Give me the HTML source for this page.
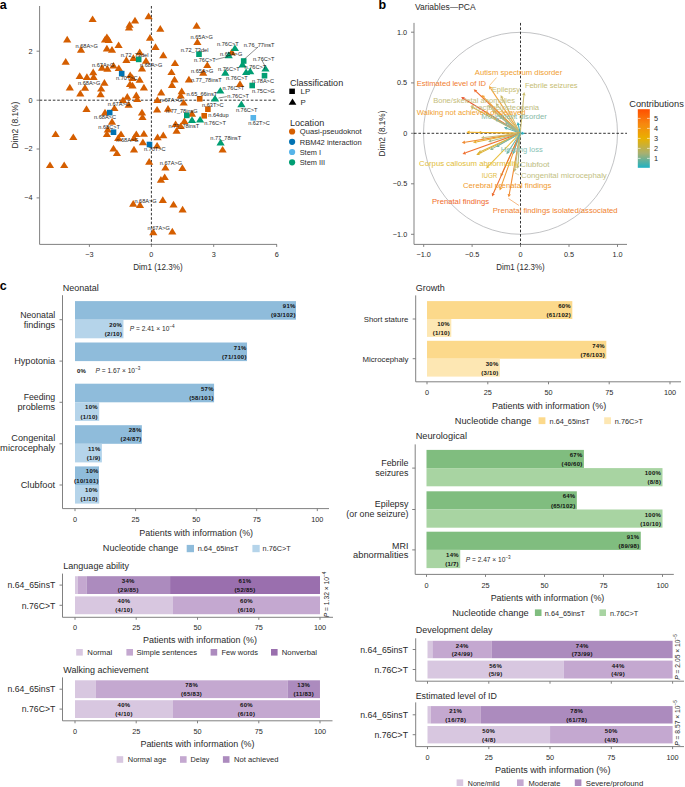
<!DOCTYPE html>
<html><head><meta charset="utf-8"><title>Figure</title>
<style>
html,body{margin:0;padding:0;background:#fff;width:685px;height:787px;overflow:hidden;}
svg{display:block;font-family:"Liberation Sans",sans-serif;}
</style></head>
<body>
<svg width="685" height="787" viewBox="0 0 685 787">
<rect width="685" height="787" fill="#fff"/>
<text x="-0.3" y="8.7" font-size="12.5" text-anchor="start" fill="#000" font-weight="bold">a</text>
<line x1="39.6" y1="6.0" x2="39.6" y2="244.4" stroke="#7a7a7a" stroke-width="0.95"/>
<line x1="39.6" y1="244.4" x2="277.0" y2="244.4" stroke="#7a7a7a" stroke-width="0.95"/>
<line x1="36.6" y1="51.2" x2="39.6" y2="51.2" stroke="#7a7a7a" stroke-width="0.95"/>
<text x="32.6" y="53.6" font-size="7.3" text-anchor="end" fill="#2a2a2a">2</text>
<line x1="36.6" y1="100.2" x2="39.6" y2="100.2" stroke="#7a7a7a" stroke-width="0.95"/>
<text x="32.6" y="102.6" font-size="7.3" text-anchor="end" fill="#2a2a2a">0</text>
<line x1="36.6" y1="149.0" x2="39.6" y2="149.0" stroke="#7a7a7a" stroke-width="0.95"/>
<text x="32.6" y="151.4" font-size="7.3" text-anchor="end" fill="#2a2a2a">−2</text>
<line x1="36.6" y1="197.9" x2="39.6" y2="197.9" stroke="#7a7a7a" stroke-width="0.95"/>
<text x="32.6" y="200.3" font-size="7.3" text-anchor="end" fill="#2a2a2a">−4</text>
<line x1="89.4" y1="244.4" x2="89.4" y2="246.9" stroke="#7a7a7a" stroke-width="0.95"/>
<text x="89.4" y="256.8" font-size="7.3" text-anchor="middle" fill="#2a2a2a">−3</text>
<line x1="151.4" y1="244.4" x2="151.4" y2="246.9" stroke="#7a7a7a" stroke-width="0.95"/>
<text x="151.4" y="256.8" font-size="7.3" text-anchor="middle" fill="#2a2a2a">0</text>
<line x1="213.7" y1="244.4" x2="213.7" y2="246.9" stroke="#7a7a7a" stroke-width="0.95"/>
<text x="213.7" y="256.8" font-size="7.3" text-anchor="middle" fill="#2a2a2a">3</text>
<line x1="276.7" y1="244.4" x2="276.7" y2="246.9" stroke="#7a7a7a" stroke-width="0.95"/>
<text x="276.7" y="256.8" font-size="7.3" text-anchor="middle" fill="#2a2a2a">6</text>
<text x="157.9" y="270.0" font-size="8.5" text-anchor="middle" fill="#2a2a2a" textLength="49.4" lengthAdjust="spacingAndGlyphs">Dim1 (12.3%)</text>
<text x="0" y="0" font-size="8.6" text-anchor="middle" fill="#2a2a2a" transform="translate(18.3,125) rotate(-90)" textLength="46.8" lengthAdjust="spacingAndGlyphs">Dim2 (8.1%)</text>
<line x1="39.6" y1="100.2" x2="276.0" y2="100.2" stroke="#000" stroke-width="0.8" stroke-dasharray="2.6,1.8"/>
<line x1="151.4" y1="6.0" x2="151.4" y2="244.4" stroke="#000" stroke-width="0.8" stroke-dasharray="2.6,1.8"/>
<path d="M92.6,15.4L96.7,22.1L88.5,22.1Z" fill="#d55e00"/>
<path d="M129.6,21.1L133.7,27.8L125.5,27.8Z" fill="#d55e00"/>
<path d="M135.0,16.7L139.1,23.4L130.9,23.4Z" fill="#d55e00"/>
<path d="M129.0,23.9L133.1,30.6L124.9,30.6Z" fill="#d55e00"/>
<path d="M148.6,12.5L152.7,19.2L144.5,19.2Z" fill="#d55e00"/>
<path d="M160.3,25.0L164.4,31.7L156.2,31.7Z" fill="#d55e00"/>
<path d="M67.2,35.7L71.3,42.4L63.1,42.4Z" fill="#d55e00"/>
<path d="M106.9,33.4L111.0,40.1L102.8,40.1Z" fill="#d55e00"/>
<path d="M108.7,36.2L112.8,42.9L104.6,42.9Z" fill="#d55e00"/>
<path d="M105.0,35.9L109.1,42.6L100.9,42.6Z" fill="#d55e00"/>
<path d="M118.6,41.4L122.7,48.1L114.5,48.1Z" fill="#d55e00"/>
<path d="M150.0,34.0L154.1,40.7L145.9,40.7Z" fill="#d55e00"/>
<path d="M155.5,43.2L159.6,49.9L151.4,49.9Z" fill="#d55e00"/>
<path d="M81.0,46.1L85.1,52.8L76.9,52.8Z" fill="#d55e00"/>
<path d="M106.9,44.8L111.0,51.5L102.8,51.5Z" fill="#d55e00"/>
<path d="M112.0,46.1L116.1,52.8L107.9,52.8Z" fill="#d55e00"/>
<path d="M65.7,58.1L69.8,64.8L61.6,64.8Z" fill="#d55e00"/>
<path d="M126.4,56.2L130.5,62.9L122.3,62.9Z" fill="#d55e00"/>
<path d="M133.4,54.3L137.5,61.0L129.3,61.0Z" fill="#d55e00"/>
<path d="M139.7,48.6L143.8,55.3L135.6,55.3Z" fill="#d55e00"/>
<path d="M146.0,57.1L150.1,63.8L141.9,63.8Z" fill="#d55e00"/>
<path d="M142.0,64.7L146.1,71.4L137.9,71.4Z" fill="#d55e00"/>
<path d="M102.0,64.1L106.1,70.8L97.9,70.8Z" fill="#d55e00"/>
<path d="M107.4,65.1L111.5,71.8L103.3,71.8Z" fill="#d55e00"/>
<path d="M113.5,61.9L117.6,68.6L109.4,68.6Z" fill="#d55e00"/>
<path d="M118.8,64.4L122.9,71.1L114.7,71.1Z" fill="#d55e00"/>
<path d="M79.7,72.3L83.8,79.0L75.6,79.0Z" fill="#d55e00"/>
<path d="M86.9,73.3L91.0,80.0L82.8,80.0Z" fill="#d55e00"/>
<path d="M93.2,68.5L97.3,75.2L89.1,75.2Z" fill="#d55e00"/>
<path d="M93.6,73.3L97.7,80.0L89.5,80.0Z" fill="#d55e00"/>
<path d="M104.4,79.1L108.5,85.8L100.3,85.8Z" fill="#d55e00"/>
<path d="M130.2,71.4L134.3,78.1L126.1,78.1Z" fill="#d55e00"/>
<path d="M132.5,74.2L136.6,80.9L128.4,80.9Z" fill="#d55e00"/>
<path d="M139.7,76.1L143.8,82.8L135.6,82.8Z" fill="#d55e00"/>
<path d="M132.5,81.8L136.6,88.5L128.4,88.5Z" fill="#d55e00"/>
<path d="M143.9,83.7L148.0,90.4L139.8,90.4Z" fill="#d55e00"/>
<path d="M69.8,83.7L73.9,90.4L65.7,90.4Z" fill="#d55e00"/>
<path d="M85.0,84.1L89.1,90.8L80.9,90.8Z" fill="#d55e00"/>
<path d="M101.2,84.9L105.3,91.6L97.1,91.6Z" fill="#d55e00"/>
<path d="M196.6,22.0L200.7,28.7L192.5,28.7Z" fill="#d55e00"/>
<path d="M197.4,38.3L201.5,45.0L193.3,45.0Z" fill="#d55e00"/>
<path d="M163.3,51.6L167.4,58.3L159.2,58.3Z" fill="#d55e00"/>
<path d="M175.0,59.4L179.1,66.1L170.9,66.1Z" fill="#d55e00"/>
<path d="M207.3,61.4L211.4,68.1L203.2,68.1Z" fill="#d55e00"/>
<path d="M171.5,68.4L175.6,75.1L167.4,75.1Z" fill="#d55e00"/>
<path d="M203.2,69.0L207.3,75.7L199.1,75.7Z" fill="#d55e00"/>
<path d="M174.5,75.7L178.6,82.4L170.4,82.4Z" fill="#d55e00"/>
<path d="M188.9,75.7L193.0,82.4L184.8,82.4Z" fill="#d55e00"/>
<path d="M172.0,81.3L176.1,88.0L167.9,88.0Z" fill="#d55e00"/>
<path d="M240.0,80.2L244.1,86.9L235.9,86.9Z" fill="#d55e00"/>
<path d="M231.8,48.5L235.9,55.2L227.7,55.2Z" fill="#d55e00"/>
<path d="M80.3,89.7L84.4,96.4L76.2,96.4Z" fill="#d55e00"/>
<path d="M100.6,90.6L104.7,97.3L96.5,97.3Z" fill="#d55e00"/>
<path d="M130.0,80.4L134.1,87.1L125.9,87.1Z" fill="#d55e00"/>
<path d="M127.3,93.1L131.4,99.8L123.2,99.8Z" fill="#d55e00"/>
<path d="M123.0,96.4L127.1,103.1L118.9,103.1Z" fill="#d55e00"/>
<path d="M136.3,91.6L140.4,98.3L132.2,98.3Z" fill="#d55e00"/>
<path d="M137.2,95.4L141.3,102.1L133.1,102.1Z" fill="#d55e00"/>
<path d="M157.4,96.2L161.5,102.9L153.3,102.9Z" fill="#d55e00"/>
<path d="M157.1,105.9L161.2,112.6L153.0,112.6Z" fill="#d55e00"/>
<path d="M86.5,105.2L90.6,111.9L82.4,111.9Z" fill="#d55e00"/>
<path d="M114.4,104.4L118.5,111.1L110.3,111.1Z" fill="#d55e00"/>
<path d="M128.7,101.1L132.8,107.8L124.6,107.8Z" fill="#d55e00"/>
<path d="M105.0,108.7L109.1,115.4L100.9,115.4Z" fill="#d55e00"/>
<path d="M142.0,108.7L146.1,115.4L137.9,115.4Z" fill="#d55e00"/>
<path d="M142.5,113.4L146.6,120.1L138.4,120.1Z" fill="#d55e00"/>
<path d="M112.0,118.1L116.1,124.8L107.9,124.8Z" fill="#d55e00"/>
<path d="M107.8,125.7L111.9,132.4L103.7,132.4Z" fill="#d55e00"/>
<path d="M106.9,130.4L111.0,137.1L102.8,137.1Z" fill="#d55e00"/>
<path d="M55.6,130.4L59.7,137.1L51.5,137.1Z" fill="#d55e00"/>
<path d="M73.3,133.4L77.4,140.1L69.2,140.1Z" fill="#d55e00"/>
<path d="M121.0,130.4L125.1,137.1L116.9,137.1Z" fill="#d55e00"/>
<path d="M118.2,134.3L122.3,141.0L114.1,141.0Z" fill="#d55e00"/>
<path d="M136.3,130.4L140.4,137.1L132.2,137.1Z" fill="#d55e00"/>
<path d="M134.0,134.3L138.1,141.0L129.9,141.0Z" fill="#d55e00"/>
<path d="M143.9,130.1L148.0,136.8L139.8,136.8Z" fill="#d55e00"/>
<path d="M142.9,138.6L147.0,145.3L138.8,145.3Z" fill="#d55e00"/>
<path d="M157.6,133.6L161.7,140.3L153.5,140.3Z" fill="#d55e00"/>
<path d="M157.1,141.9L161.2,148.6L153.0,148.6Z" fill="#d55e00"/>
<path d="M113.5,144.7L117.6,151.4L109.4,151.4Z" fill="#d55e00"/>
<path d="M116.9,149.4L121.0,156.1L112.8,156.1Z" fill="#d55e00"/>
<path d="M134.0,145.7L138.1,152.4L129.9,152.4Z" fill="#d55e00"/>
<path d="M149.2,158.0L153.3,164.7L145.1,164.7Z" fill="#d55e00"/>
<path d="M50.0,161.4L54.1,168.1L45.9,168.1Z" fill="#d55e00"/>
<path d="M64.2,161.4L68.3,168.1L60.1,168.1Z" fill="#d55e00"/>
<path d="M161.2,88.7L165.3,95.4L157.1,95.4Z" fill="#d55e00"/>
<path d="M181.7,87.6L185.8,94.3L177.6,94.3Z" fill="#d55e00"/>
<path d="M180.7,91.7L184.8,98.4L176.6,98.4Z" fill="#d55e00"/>
<path d="M183.7,98.9L187.8,105.6L179.6,105.6Z" fill="#d55e00"/>
<path d="M168.0,105.0L172.1,111.7L163.9,111.7Z" fill="#d55e00"/>
<path d="M192.0,110.1L196.1,116.8L187.9,116.8Z" fill="#d55e00"/>
<path d="M184.4,117.3L188.5,124.0L180.3,124.0Z" fill="#d55e00"/>
<path d="M175.6,120.4L179.7,127.1L171.5,127.1Z" fill="#d55e00"/>
<path d="M180.7,122.4L184.8,129.1L176.6,129.1Z" fill="#d55e00"/>
<path d="M176.6,127.1L180.7,133.8L172.5,133.8Z" fill="#d55e00"/>
<path d="M163.3,131.6L167.4,138.3L159.2,138.3Z" fill="#d55e00"/>
<path d="M222.6,145.9L226.7,152.6L218.5,152.6Z" fill="#d55e00"/>
<path d="M165.4,163.9L169.5,170.6L161.3,170.6Z" fill="#d55e00"/>
<path d="M182.4,164.2L186.5,170.9L178.3,170.9Z" fill="#d55e00"/>
<path d="M160.9,176.1L165.0,182.8L156.8,182.8Z" fill="#d55e00"/>
<path d="M164.7,173.4L168.8,180.1L160.6,180.1Z" fill="#d55e00"/>
<path d="M162.8,196.2L166.9,202.9L158.7,202.9Z" fill="#d55e00"/>
<path d="M173.5,200.8L177.6,207.5L169.4,207.5Z" fill="#d55e00"/>
<path d="M182.6,205.7L186.7,212.4L178.5,212.4Z" fill="#d55e00"/>
<path d="M133.2,200.0L137.3,206.7L129.1,206.7Z" fill="#d55e00"/>
<path d="M140.0,201.2L144.1,207.9L135.9,207.9Z" fill="#d55e00"/>
<path d="M153.3,228.5L157.4,235.2L149.2,235.2Z" fill="#d55e00"/>
<path d="M172.3,227.8L176.4,234.5L168.2,234.5Z" fill="#d55e00"/>
<rect x="196.9" y="96.0" width="5.6" height="5.6" fill="#d55e00"/>
<rect x="205.1" y="106.4" width="5.6" height="5.6" fill="#d55e00"/>
<rect x="201.4" y="113.0" width="5.6" height="5.6" fill="#d55e00"/>
<path d="M234.9,44.4L239.0,51.1L230.8,51.1Z" fill="#009e73"/>
<path d="M228.7,51.6L232.8,58.3L224.6,58.3Z" fill="#009e73"/>
<path d="M242.5,60.7L246.6,67.4L238.4,67.4Z" fill="#009e73"/>
<path d="M225.3,69.0L229.4,75.7L221.2,75.7Z" fill="#009e73"/>
<path d="M246.1,68.4L250.2,75.1L242.0,75.1Z" fill="#009e73"/>
<path d="M250.2,67.6L254.3,74.3L246.1,74.3Z" fill="#009e73"/>
<path d="M265.5,64.9L269.6,71.6L261.4,71.6Z" fill="#009e73"/>
<path d="M220.3,86.9L224.4,93.6L216.2,93.6Z" fill="#009e73"/>
<path d="M215.0,94.8L219.1,101.5L210.9,101.5Z" fill="#009e73"/>
<path d="M241.4,100.5L245.5,107.2L237.3,107.2Z" fill="#009e73"/>
<path d="M192.0,116.3L196.1,123.0L187.9,123.0Z" fill="#009e73"/>
<path d="M200.1,115.9L204.2,122.6L196.0,122.6Z" fill="#009e73"/>
<path d="M220.6,138.8L224.7,145.5L216.5,145.5Z" fill="#009e73"/>
<rect x="135.9" y="56.6" width="5.6" height="5.6" fill="#009e73"/>
<rect x="196.2" y="51.4" width="5.6" height="5.6" fill="#009e73"/>
<rect x="240.9" y="58.2" width="5.6" height="5.6" fill="#009e73"/>
<rect x="261.7" y="72.9" width="5.6" height="5.6" fill="#009e73"/>
<rect x="249.4" y="82.7" width="5.6" height="5.6" fill="#009e73"/>
<rect x="184.0" y="112.6" width="5.6" height="5.6" fill="#009e73"/>
<rect x="118.9" y="70.8" width="5.6" height="5.6" fill="#0072b2"/>
<rect x="106.9" y="109.8" width="5.6" height="5.6" fill="#0072b2"/>
<rect x="110.7" y="129.4" width="5.6" height="5.6" fill="#0072b2"/>
<rect x="146.7" y="141.7" width="5.6" height="5.6" fill="#0072b2"/>
<rect x="250.5" y="115.0" width="5.6" height="5.6" fill="#56b4e9"/>
<text x="75.5" y="47.9" font-size="5.6" text-anchor="start" fill="#1e1e1e">n.68A&gt;G</text>
<text x="120.7" y="56.6" font-size="5.6" text-anchor="start" fill="#1e1e1e">n.72_73del</text>
<text x="92.0" y="66.9" font-size="5.6" text-anchor="start" fill="#1e1e1e">n.67A&gt;G</text>
<text x="140.0" y="66.9" font-size="5.6" text-anchor="start" fill="#1e1e1e">n.68A&gt;G</text>
<text x="116.0" y="80.3" font-size="5.6" text-anchor="start" fill="#1e1e1e">n.70T&gt;C</text>
<text x="78.0" y="84.9" font-size="5.6" text-anchor="start" fill="#1e1e1e">n.68A&gt;G</text>
<text x="190.5" y="39.1" font-size="5.6" text-anchor="start" fill="#1e1e1e">n.65A&gt;G</text>
<text x="217.0" y="45.9" font-size="5.6" text-anchor="start" fill="#1e1e1e">n.76C&gt;T</text>
<text x="243.7" y="46.9" font-size="5.6" text-anchor="start" fill="#1e1e1e">n.76_77insT</text>
<text x="180.7" y="51.6" font-size="5.6" text-anchor="start" fill="#1e1e1e">n.72_73del</text>
<text x="220.0" y="55.7" font-size="5.6" text-anchor="start" fill="#1e1e1e">n.65A&gt;G</text>
<text x="194.0" y="62.2" font-size="5.6" text-anchor="start" fill="#1e1e1e">n.76C&gt;T</text>
<text x="252.9" y="60.6" font-size="5.6" text-anchor="start" fill="#1e1e1e">n.76C&gt;T</text>
<text x="218.0" y="70.9" font-size="5.6" text-anchor="start" fill="#1e1e1e">n.76C&gt;T</text>
<text x="244.5" y="68.9" font-size="5.6" text-anchor="start" fill="#1e1e1e">n.76C&gt;T</text>
<text x="191.0" y="72.9" font-size="5.6" text-anchor="start" fill="#1e1e1e">n.65A&gt;G</text>
<text x="191.0" y="81.7" font-size="5.6" text-anchor="start" fill="#1e1e1e">n.77_78insT</text>
<text x="226.0" y="80.2" font-size="5.6" text-anchor="start" fill="#1e1e1e">n.76C&gt;T</text>
<text x="252.0" y="83.1" font-size="5.6" text-anchor="start" fill="#1e1e1e">n.78A&gt;C</text>
<text x="222.6" y="90.1" font-size="5.6" text-anchor="start" fill="#1e1e1e">n.76C&gt;T</text>
<text x="252.0" y="93.1" font-size="5.6" text-anchor="start" fill="#1e1e1e">n.75C&gt;G</text>
<text x="186.4" y="95.9" font-size="5.6" text-anchor="start" fill="#1e1e1e">n.65_66insT</text>
<text x="227.3" y="98.3" font-size="5.6" text-anchor="start" fill="#1e1e1e">n.76C&gt;T</text>
<text x="159.8" y="101.7" font-size="5.6" text-anchor="start" fill="#1e1e1e">n.67A&gt;G</text>
<text x="202.0" y="106.9" font-size="5.6" text-anchor="start" fill="#1e1e1e">n.63T&gt;C</text>
<text x="166.0" y="112.9" font-size="5.6" text-anchor="start" fill="#1e1e1e">n.77_78insG</text>
<text x="235.9" y="111.9" font-size="5.6" text-anchor="start" fill="#1e1e1e">n.76C&gt;T</text>
<text x="208.3" y="116.7" font-size="5.6" text-anchor="start" fill="#1e1e1e">n.64dup</text>
<text x="168.4" y="127.9" font-size="5.6" text-anchor="start" fill="#1e1e1e">n.77_78insT</text>
<text x="204.2" y="125.3" font-size="5.6" text-anchor="start" fill="#1e1e1e">n.76C&gt;T</text>
<text x="248.2" y="125.3" font-size="5.6" text-anchor="start" fill="#1e1e1e">n.62T&gt;C</text>
<text x="210.3" y="140.2" font-size="5.6" text-anchor="start" fill="#1e1e1e">n.77_78insT</text>
<text x="143.9" y="151.4" font-size="5.6" text-anchor="start" fill="#1e1e1e">n.70T&gt;C</text>
<text x="159.8" y="165.1" font-size="5.6" text-anchor="start" fill="#1e1e1e">n.67A&gt;G</text>
<text x="107.8" y="105.6" font-size="5.6" text-anchor="start" fill="#1e1e1e">n.67A&gt;G</text>
<text x="94.0" y="119.3" font-size="5.6" text-anchor="start" fill="#1e1e1e">n.68A&gt;C</text>
<text x="98.3" y="129.3" font-size="5.6" text-anchor="start" fill="#1e1e1e">n.68C&gt;T</text>
<text x="116.3" y="141.7" font-size="5.6" text-anchor="start" fill="#1e1e1e">n.68A&gt;G</text>
<text x="134.4" y="202.5" font-size="5.6" text-anchor="start" fill="#1e1e1e">n.68A&gt;G</text>
<text x="147.6" y="230.2" font-size="5.6" text-anchor="start" fill="#1e1e1e">n.67A&gt;G</text>
<line x1="215.5" y1="59.6" x2="228.0" y2="56.5" stroke="#222" stroke-width="0.5"/>
<line x1="258.0" y1="47.0" x2="244.5" y2="59.0" stroke="#222" stroke-width="0.5"/>
<line x1="262.0" y1="60.5" x2="265.0" y2="66.0" stroke="#222" stroke-width="0.5"/>
<line x1="218.5" y1="98.0" x2="226.8" y2="96.6" stroke="#222" stroke-width="0.5"/>
<text x="289.9" y="85.6" font-size="8.9" text-anchor="start" fill="#2a2a2a" textLength="53.3" lengthAdjust="spacingAndGlyphs">Classification</text>
<rect x="289.3" y="88.6" width="5.6" height="5.4" fill="#000"/>
<text x="300.6" y="94.1" font-size="7.9" text-anchor="start" fill="#2a2a2a">LP</text>
<path d="M292.5,98.6L296.4,104.8L288.6,104.8Z" fill="#000"/>
<text x="300.6" y="105.0" font-size="7.9" text-anchor="start" fill="#2a2a2a">P</text>
<text x="290.0" y="125.6" font-size="8.9" text-anchor="start" fill="#2a2a2a" textLength="34.2" lengthAdjust="spacingAndGlyphs">Location</text>
<circle cx="292.1" cy="131.5" r="3.1" fill="#d55e00"/>
<text x="299.7" y="134.3" font-size="7.9" text-anchor="start" fill="#2a2a2a" textLength="62.0" lengthAdjust="spacingAndGlyphs">Quasi-pseudoknot</text>
<circle cx="292.1" cy="141.8" r="3.1" fill="#0072b2"/>
<text x="299.7" y="144.6" font-size="7.9" text-anchor="start" fill="#2a2a2a" textLength="62.0" lengthAdjust="spacingAndGlyphs">RBM42 interaction</text>
<circle cx="292.1" cy="152" r="3.1" fill="#56b4e9"/>
<text x="299.7" y="154.8" font-size="7.9" text-anchor="start" fill="#2a2a2a" textLength="21.3" lengthAdjust="spacingAndGlyphs">Stem I</text>
<circle cx="292.1" cy="162.3" r="3.1" fill="#009e73"/>
<text x="299.7" y="165.1" font-size="7.9" text-anchor="start" fill="#2a2a2a" textLength="25.4" lengthAdjust="spacingAndGlyphs">Stem III</text>
<text x="378.6" y="8.8" font-size="12.5" text-anchor="start" fill="#000" font-weight="bold">b</text>
<text x="414.9" y="9.7" font-size="8.3" text-anchor="start" fill="#2a2a2a" textLength="60.7" lengthAdjust="spacingAndGlyphs">Variables—PCA</text>
<line x1="414.0" y1="22.9" x2="414.0" y2="244.4" stroke="#7a7a7a" stroke-width="0.95"/>
<line x1="414.0" y1="244.4" x2="627.0" y2="244.4" stroke="#7a7a7a" stroke-width="0.95"/>
<line x1="411.0" y1="32.2" x2="414.0" y2="32.2" stroke="#7a7a7a" stroke-width="0.95"/>
<text x="407.2" y="34.7" font-size="7.3" text-anchor="end" fill="#2a2a2a">1.0</text>
<line x1="411.0" y1="82.9" x2="414.0" y2="82.9" stroke="#7a7a7a" stroke-width="0.95"/>
<text x="407.2" y="85.4" font-size="7.3" text-anchor="end" fill="#2a2a2a">0.5</text>
<line x1="411.0" y1="133.3" x2="414.0" y2="133.3" stroke="#7a7a7a" stroke-width="0.95"/>
<text x="407.2" y="135.8" font-size="7.3" text-anchor="end" fill="#2a2a2a">0</text>
<line x1="411.0" y1="183.8" x2="414.0" y2="183.8" stroke="#7a7a7a" stroke-width="0.95"/>
<text x="407.2" y="186.3" font-size="7.3" text-anchor="end" fill="#2a2a2a">−0.5</text>
<line x1="411.0" y1="234.3" x2="414.0" y2="234.3" stroke="#7a7a7a" stroke-width="0.95"/>
<text x="407.2" y="236.8" font-size="7.3" text-anchor="end" fill="#2a2a2a">−1.0</text>
<line x1="423.7" y1="244.4" x2="423.7" y2="246.9" stroke="#7a7a7a" stroke-width="0.95"/>
<text x="423.7" y="257.0" font-size="7.3" text-anchor="middle" fill="#2a2a2a">−1.0</text>
<line x1="472.1" y1="244.4" x2="472.1" y2="246.9" stroke="#7a7a7a" stroke-width="0.95"/>
<text x="472.1" y="257.0" font-size="7.3" text-anchor="middle" fill="#2a2a2a">−0.5</text>
<line x1="520.5" y1="244.4" x2="520.5" y2="246.9" stroke="#7a7a7a" stroke-width="0.95"/>
<text x="520.5" y="257.0" font-size="7.3" text-anchor="middle" fill="#2a2a2a">0</text>
<line x1="569.0" y1="244.4" x2="569.0" y2="246.9" stroke="#7a7a7a" stroke-width="0.95"/>
<text x="569.0" y="257.0" font-size="7.3" text-anchor="middle" fill="#2a2a2a">0.5</text>
<line x1="617.5" y1="244.4" x2="617.5" y2="246.9" stroke="#7a7a7a" stroke-width="0.95"/>
<text x="617.5" y="257.0" font-size="7.3" text-anchor="middle" fill="#2a2a2a">1.0</text>
<text x="520.4" y="270.0" font-size="8.5" text-anchor="middle" fill="#2a2a2a" textLength="48.4" lengthAdjust="spacingAndGlyphs">Dim1 (12.3%)</text>
<text x="0" y="0" font-size="8.5" text-anchor="middle" fill="#2a2a2a" transform="translate(384.9,133.5) rotate(-90)" textLength="45.8" lengthAdjust="spacingAndGlyphs">Dim2 (8.1%)</text>
<ellipse cx="520.5" cy="133.3" rx="97" ry="101" fill="none" stroke="#a7a9ac" stroke-width="0.7"/>
<line x1="414.0" y1="133.3" x2="627.0" y2="133.3" stroke="#000" stroke-width="0.8" stroke-dasharray="2.6,1.8"/>
<line x1="520.5" y1="22.9" x2="520.5" y2="244.4" stroke="#000" stroke-width="0.8" stroke-dasharray="2.6,1.8"/>
<line x1="520.2" y1="133.2" x2="476.0" y2="91.4" stroke="#ee6a2c" stroke-width="1.05"/>
<path d="M473.7,89.2L477.2,90.2L474.9,92.6Z" fill="#ee6a2c"/>
<line x1="520.2" y1="133.2" x2="483.8" y2="97.3" stroke="#f0a035" stroke-width="1.05"/>
<path d="M481.5,95.1L485.0,96.1L482.6,98.6Z" fill="#f0a035"/>
<line x1="520.2" y1="133.2" x2="490.8" y2="88.6" stroke="#f2a33a" stroke-width="1.05"/>
<path d="M489.0,85.9L492.2,87.6L489.3,89.5Z" fill="#f2a33a"/>
<line x1="520.2" y1="133.2" x2="502.1" y2="97.9" stroke="#cdbb6a" stroke-width="1.05"/>
<path d="M500.6,95.1L503.6,97.2L500.6,98.7Z" fill="#cdbb6a"/>
<line x1="520.2" y1="133.2" x2="523.9" y2="95.3" stroke="#c9bc6e" stroke-width="1.05"/>
<path d="M524.2,92.1L525.6,95.4L522.2,95.1Z" fill="#c9bc6e"/>
<line x1="520.2" y1="133.2" x2="463.9" y2="98.8" stroke="#e8542e" stroke-width="1.05"/>
<path d="M461.2,97.1L464.8,97.3L463.0,100.2Z" fill="#e8542e"/>
<line x1="520.2" y1="133.2" x2="473.2" y2="107.8" stroke="#d5b351" stroke-width="1.05"/>
<path d="M470.4,106.3L474.0,106.3L472.4,109.3Z" fill="#d5b351"/>
<line x1="520.2" y1="133.2" x2="497.7" y2="105.5" stroke="#c7bd78" stroke-width="1.05"/>
<path d="M495.7,103.0L499.0,104.4L496.4,106.6Z" fill="#c7bd78"/>
<line x1="520.2" y1="133.2" x2="490.4" y2="107.1" stroke="#bdb57a" stroke-width="1.05"/>
<path d="M488.0,105.0L491.5,105.8L489.3,108.4Z" fill="#bdb57a"/>
<line x1="520.2" y1="133.2" x2="494.5" y2="112.0" stroke="#c5b86a" stroke-width="1.05"/>
<path d="M492.0,110.0L495.6,110.7L493.4,113.3Z" fill="#c5b86a"/>
<line x1="520.2" y1="133.2" x2="487.7" y2="113.7" stroke="#d9a84a" stroke-width="1.05"/>
<path d="M485.0,112.0L488.6,112.2L486.9,115.1Z" fill="#d9a84a"/>
<line x1="520.2" y1="133.2" x2="507.8" y2="123.9" stroke="#7fb8a8" stroke-width="1.05"/>
<path d="M505.2,122.0L508.8,122.6L506.7,125.3Z" fill="#7fb8a8"/>
<line x1="520.2" y1="133.2" x2="518.4" y2="125.1" stroke="#3aafb8" stroke-width="1.05"/>
<path d="M517.7,122.0L520.1,124.8L516.7,125.5Z" fill="#3aafb8"/>
<line x1="520.2" y1="133.2" x2="506.9" y2="128.4" stroke="#5ab0b0" stroke-width="1.05"/>
<path d="M503.9,127.3L507.5,126.8L506.3,130.0Z" fill="#5ab0b0"/>
<line x1="520.2" y1="133.2" x2="497.8" y2="120.6" stroke="#8fb6a0" stroke-width="1.05"/>
<path d="M495.0,119.0L498.6,119.1L497.0,122.1Z" fill="#8fb6a0"/>
<line x1="520.2" y1="133.2" x2="501.5" y2="118.0" stroke="#a3b790" stroke-width="1.05"/>
<path d="M499.0,116.0L502.6,116.7L500.4,119.3Z" fill="#a3b790"/>
<line x1="520.2" y1="133.2" x2="469.6" y2="132.3" stroke="#f0ae1e" stroke-width="1.05"/>
<path d="M466.4,132.2L469.6,130.6L469.6,134.0Z" fill="#f0ae1e"/>
<line x1="520.2" y1="133.2" x2="481.2" y2="132.6" stroke="#e8b030" stroke-width="1.05"/>
<path d="M478.0,132.5L481.2,130.9L481.2,134.3Z" fill="#e8b030"/>
<line x1="520.2" y1="133.2" x2="521.7" y2="133.3" stroke="#2db0c0" stroke-width="1.05"/>
<path d="M524.9,133.5L521.6,135.0L521.8,131.6Z" fill="#2db0c0"/>
<line x1="520.2" y1="133.2" x2="465.0" y2="142.2" stroke="#f08a30" stroke-width="1.05"/>
<path d="M461.8,142.7L464.7,140.5L465.2,143.9Z" fill="#f08a30"/>
<line x1="520.2" y1="133.2" x2="476.1" y2="141.9" stroke="#e8b030" stroke-width="1.05"/>
<path d="M473.0,142.5L475.8,140.2L476.5,143.5Z" fill="#e8b030"/>
<line x1="520.2" y1="133.2" x2="484.1" y2="137.5" stroke="#c8ba72" stroke-width="1.05"/>
<path d="M480.9,137.9L483.9,135.8L484.3,139.2Z" fill="#c8ba72"/>
<line x1="520.2" y1="133.2" x2="491.2" y2="141.0" stroke="#a8b88a" stroke-width="1.05"/>
<path d="M488.1,141.8L490.8,139.3L491.6,142.6Z" fill="#a8b88a"/>
<line x1="520.2" y1="133.2" x2="465.5" y2="152.8" stroke="#f07030" stroke-width="1.05"/>
<path d="M462.5,153.9L464.9,151.2L466.1,154.4Z" fill="#f07030"/>
<line x1="520.2" y1="133.2" x2="479.2" y2="153.6" stroke="#e0b030" stroke-width="1.05"/>
<path d="M476.3,155.0L478.4,152.1L479.9,155.1Z" fill="#e0b030"/>
<line x1="520.2" y1="133.2" x2="480.9" y2="151.6" stroke="#d8b43a" stroke-width="1.05"/>
<path d="M478.0,153.0L480.2,150.1L481.6,153.2Z" fill="#d8b43a"/>
<line x1="520.2" y1="133.2" x2="498.8" y2="145.4" stroke="#6fb5aa" stroke-width="1.05"/>
<path d="M496.0,147.0L497.9,143.9L499.6,146.9Z" fill="#6fb5aa"/>
<line x1="520.2" y1="133.2" x2="492.8" y2="148.4" stroke="#90b79c" stroke-width="1.05"/>
<path d="M490.0,150.0L492.0,147.0L493.6,149.9Z" fill="#90b79c"/>
<line x1="520.2" y1="133.2" x2="488.3" y2="166.1" stroke="#e8c040" stroke-width="1.05"/>
<path d="M486.1,168.4L487.1,164.9L489.5,167.3Z" fill="#e8c040"/>
<line x1="520.2" y1="133.2" x2="501.9" y2="173.7" stroke="#e2b84a" stroke-width="1.05"/>
<path d="M500.6,176.6L500.4,173.0L503.5,174.4Z" fill="#e2b84a"/>
<line x1="520.2" y1="133.2" x2="493.3" y2="193.5" stroke="#ec6a2e" stroke-width="1.05"/>
<path d="M492.0,196.4L491.8,192.8L494.9,194.2Z" fill="#ec6a2e"/>
<line x1="520.2" y1="133.2" x2="500.8" y2="187.4" stroke="#f09a32" stroke-width="1.05"/>
<path d="M499.7,190.4L499.2,186.8L502.4,188.0Z" fill="#f09a32"/>
<line x1="520.2" y1="133.2" x2="509.3" y2="194.2" stroke="#f08a30" stroke-width="1.05"/>
<path d="M508.7,197.3L507.6,193.9L510.9,194.5Z" fill="#f08a30"/>
<line x1="520.2" y1="133.2" x2="514.9" y2="168.8" stroke="#bcba7c" stroke-width="1.05"/>
<path d="M514.4,172.0L513.2,168.6L516.6,169.1Z" fill="#bcba7c"/>
<line x1="520.2" y1="133.2" x2="517.9" y2="165.6" stroke="#a9b98a" stroke-width="1.05"/>
<path d="M517.7,168.8L516.2,165.5L519.6,165.7Z" fill="#a9b98a"/>
<line x1="520.2" y1="133.2" x2="508.2" y2="151.6" stroke="#6fb5aa" stroke-width="1.05"/>
<path d="M506.5,154.3L506.8,150.7L509.7,152.5Z" fill="#6fb5aa"/>
<line x1="520.2" y1="133.2" x2="514.0" y2="151.3" stroke="#5fb3b0" stroke-width="1.05"/>
<path d="M513.0,154.3L512.4,150.7L515.6,151.8Z" fill="#5fb3b0"/>
<line x1="489.5" y1="85.5" x2="496.5" y2="77.6" stroke="#f2a33a" stroke-width="0.6"/>
<line x1="508.5" y1="198.5" x2="519.0" y2="205.5" stroke="#f08a30" stroke-width="0.6"/>
<line x1="515.0" y1="173.0" x2="519.0" y2="175.0" stroke="#bcba7c" stroke-width="0.6"/>
<text x="474.8" y="75.4" font-size="7.6" text-anchor="start" fill="#f0a030" textLength="87.4" lengthAdjust="spacingAndGlyphs">Autism spectrum disorder</text>
<text x="416.7" y="85.8" font-size="7.5" text-anchor="start" fill="#f07e30" textLength="69.4" lengthAdjust="spacingAndGlyphs">Estimated level of ID</text>
<text x="491.8" y="92.2" font-size="7.5" text-anchor="start" fill="#c6bd72" textLength="28.2" lengthAdjust="spacingAndGlyphs">Epilepsy</text>
<text x="524.9" y="88.1" font-size="7.5" text-anchor="start" fill="#c6bd72" textLength="52.7" lengthAdjust="spacingAndGlyphs">Febrile seizures</text>
<text x="433.2" y="103.2" font-size="7.5" text-anchor="start" fill="#c4bd7a" textLength="81.8" lengthAdjust="spacingAndGlyphs">Bone/skeletal anomalies</text>
<text x="471.1" y="109.7" font-size="7.5" text-anchor="start" fill="#c0bc80" textLength="68.0" lengthAdjust="spacingAndGlyphs">Fracture/osteopenia</text>
<text x="416.7" y="114.8" font-size="7.5" text-anchor="start" fill="#f0a02e" textLength="108.8" lengthAdjust="spacingAndGlyphs">Walking not achieved or delayed</text>
<text x="481.3" y="118.9" font-size="7.5" text-anchor="start" fill="#88b9a6" textLength="65.5" lengthAdjust="spacingAndGlyphs">Movement disorder</text>
<text x="500.8" y="152.1" font-size="7.5" text-anchor="start" fill="#86bfb3" textLength="41.9" lengthAdjust="spacingAndGlyphs">Hearing loss</text>
<text x="419.0" y="166.1" font-size="7.5" text-anchor="start" fill="#e2bd38" textLength="100.5" lengthAdjust="spacingAndGlyphs">Corpus callosum abnormality</text>
<text x="520.3" y="166.7" font-size="7.5" text-anchor="start" fill="#bcbc80" textLength="29.2" lengthAdjust="spacingAndGlyphs">Clubfoot</text>
<text x="481.7" y="177.6" font-size="7.5" text-anchor="start" fill="#e2bd40" textLength="15.6" lengthAdjust="spacingAndGlyphs">IUGR</text>
<text x="521.0" y="178.1" font-size="7.5" text-anchor="start" fill="#c2c082" textLength="85.8" lengthAdjust="spacingAndGlyphs">Congenital microcephaly</text>
<text x="463.0" y="188.4" font-size="7.5" text-anchor="start" fill="#f09a2e" textLength="88.4" lengthAdjust="spacingAndGlyphs">Cerebral prenatal findings</text>
<text x="432.0" y="204.0" font-size="7.5" text-anchor="start" fill="#f06a2c" textLength="57.2" lengthAdjust="spacingAndGlyphs">Prenatal findings</text>
<text x="492.7" y="212.7" font-size="7.5" text-anchor="start" fill="#f0822e" textLength="124.9" lengthAdjust="spacingAndGlyphs">Prenatal findings isolated/associated</text>
<text x="629.2" y="106.6" font-size="9.0" text-anchor="start" fill="#2a2a2a" textLength="54.6" lengthAdjust="spacingAndGlyphs">Contributions</text>
<defs><linearGradient id="cg" x1="0" y1="0" x2="0" y2="1"><stop offset="0" stop-color="#ff4e00"/><stop offset="0.25" stop-color="#f7870f"/><stop offset="0.5" stop-color="#e9b000"/><stop offset="0.75" stop-color="#a9b070"/><stop offset="1" stop-color="#1fb1c3"/></linearGradient></defs>
<rect x="637.8" y="109.2" width="12" height="58.6" fill="url(#cg)"/>
<line x1="637.8" y1="118.4" x2="640.6" y2="118.4" stroke="#fff" stroke-width="0.6"/>
<line x1="647.0" y1="118.4" x2="649.8" y2="118.4" stroke="#fff" stroke-width="0.6"/>
<text x="654.0" y="121.0" font-size="7.3" text-anchor="start" fill="#2a2a2a">5</text>
<line x1="637.8" y1="128.4" x2="640.6" y2="128.4" stroke="#fff" stroke-width="0.6"/>
<line x1="647.0" y1="128.4" x2="649.8" y2="128.4" stroke="#fff" stroke-width="0.6"/>
<text x="654.0" y="131.0" font-size="7.3" text-anchor="start" fill="#2a2a2a">4</text>
<line x1="637.8" y1="138.4" x2="640.6" y2="138.4" stroke="#fff" stroke-width="0.6"/>
<line x1="647.0" y1="138.4" x2="649.8" y2="138.4" stroke="#fff" stroke-width="0.6"/>
<text x="654.0" y="141.0" font-size="7.3" text-anchor="start" fill="#2a2a2a">3</text>
<line x1="637.8" y1="148.4" x2="640.6" y2="148.4" stroke="#fff" stroke-width="0.6"/>
<line x1="647.0" y1="148.4" x2="649.8" y2="148.4" stroke="#fff" stroke-width="0.6"/>
<text x="654.0" y="151.0" font-size="7.3" text-anchor="start" fill="#2a2a2a">2</text>
<line x1="637.8" y1="158.4" x2="640.6" y2="158.4" stroke="#fff" stroke-width="0.6"/>
<line x1="647.0" y1="158.4" x2="649.8" y2="158.4" stroke="#fff" stroke-width="0.6"/>
<text x="654.0" y="161.0" font-size="7.3" text-anchor="start" fill="#2a2a2a">1</text>
<text x="-0.3" y="290.0" font-size="12.5" text-anchor="start" fill="#000" font-weight="bold">c</text>
<text x="62.8" y="290.6" font-size="8.9" text-anchor="start" fill="#2a2a2a" textLength="36.0" lengthAdjust="spacingAndGlyphs">Neonatal</text>
<line x1="62.5" y1="295.2" x2="62.5" y2="508.6" stroke="#7a7a7a" stroke-width="0.95"/>
<line x1="62.5" y1="508.6" x2="329.0" y2="508.6" stroke="#7a7a7a" stroke-width="0.95"/>
<line x1="75.0" y1="508.6" x2="75.0" y2="511.1" stroke="#7a7a7a" stroke-width="0.95"/>
<text x="75.0" y="522.0" font-size="7.3" text-anchor="middle" fill="#2a2a2a">0</text>
<line x1="135.6" y1="508.6" x2="135.6" y2="511.1" stroke="#7a7a7a" stroke-width="0.95"/>
<text x="135.6" y="522.0" font-size="7.3" text-anchor="middle" fill="#2a2a2a">25</text>
<line x1="196.2" y1="508.6" x2="196.2" y2="511.1" stroke="#7a7a7a" stroke-width="0.95"/>
<text x="196.2" y="522.0" font-size="7.3" text-anchor="middle" fill="#2a2a2a">50</text>
<line x1="256.7" y1="508.6" x2="256.7" y2="511.1" stroke="#7a7a7a" stroke-width="0.95"/>
<text x="256.7" y="522.0" font-size="7.3" text-anchor="middle" fill="#2a2a2a">75</text>
<line x1="317.3" y1="508.6" x2="317.3" y2="511.1" stroke="#7a7a7a" stroke-width="0.95"/>
<text x="317.3" y="522.0" font-size="7.3" text-anchor="middle" fill="#2a2a2a">100</text>
<rect x="75.00" y="301.10" width="220.98" height="18.60" fill="#8fbcdb"/>
<rect x="75.00" y="319.70" width="48.46" height="18.60" fill="#b5d4ea"/>
<text x="295.7" y="308.1" font-size="6.0" text-anchor="end" fill="#111" font-weight="bold" letter-spacing="0.28">91%</text>
<text x="295.7" y="317.3" font-size="6.0" text-anchor="end" fill="#111" font-weight="bold" letter-spacing="0.28">(93/102)</text>
<text x="122.2" y="326.7" font-size="6.0" text-anchor="end" fill="#111" font-weight="bold" letter-spacing="0.28">20%</text>
<text x="122.2" y="335.9" font-size="6.0" text-anchor="end" fill="#111" font-weight="bold" letter-spacing="0.28">(2/10)</text>
<line x1="59.5" y1="319.7" x2="62.5" y2="319.7" stroke="#7a7a7a" stroke-width="0.95"/>
<rect x="75.00" y="342.50" width="172.03" height="18.60" fill="#8fbcdb"/>
<text x="246.7" y="349.5" font-size="6.0" text-anchor="end" fill="#111" font-weight="bold" letter-spacing="0.28">71%</text>
<text x="246.7" y="358.7" font-size="6.0" text-anchor="end" fill="#111" font-weight="bold" letter-spacing="0.28">(71/100)</text>
<line x1="59.5" y1="361.1" x2="62.5" y2="361.1" stroke="#7a7a7a" stroke-width="0.95"/>
<rect x="75.00" y="383.70" width="139.08" height="18.60" fill="#8fbcdb"/>
<rect x="75.00" y="402.30" width="24.23" height="18.60" fill="#b5d4ea"/>
<text x="213.8" y="390.7" font-size="6.0" text-anchor="end" fill="#111" font-weight="bold" letter-spacing="0.28">57%</text>
<text x="213.8" y="399.9" font-size="6.0" text-anchor="end" fill="#111" font-weight="bold" letter-spacing="0.28">(58/101)</text>
<text x="97.9" y="409.3" font-size="6.0" text-anchor="end" fill="#111" font-weight="bold" letter-spacing="0.28">10%</text>
<text x="97.9" y="418.5" font-size="6.0" text-anchor="end" fill="#111" font-weight="bold" letter-spacing="0.28">(1/10)</text>
<line x1="59.5" y1="402.3" x2="62.5" y2="402.3" stroke="#7a7a7a" stroke-width="0.95"/>
<rect x="75.00" y="425.20" width="66.87" height="18.60" fill="#8fbcdb"/>
<rect x="75.00" y="443.80" width="26.90" height="18.60" fill="#b5d4ea"/>
<text x="141.6" y="432.2" font-size="6.0" text-anchor="end" fill="#111" font-weight="bold" letter-spacing="0.28">28%</text>
<text x="141.6" y="441.4" font-size="6.0" text-anchor="end" fill="#111" font-weight="bold" letter-spacing="0.28">(24/87)</text>
<text x="100.6" y="450.8" font-size="6.0" text-anchor="end" fill="#111" font-weight="bold" letter-spacing="0.28">11%</text>
<text x="100.6" y="460.0" font-size="6.0" text-anchor="end" fill="#111" font-weight="bold" letter-spacing="0.28">(1/9)</text>
<line x1="59.5" y1="443.8" x2="62.5" y2="443.8" stroke="#7a7a7a" stroke-width="0.95"/>
<rect x="75.00" y="466.40" width="23.99" height="18.60" fill="#8fbcdb"/>
<rect x="75.00" y="485.00" width="24.23" height="18.60" fill="#b5d4ea"/>
<text x="98.7" y="473.4" font-size="6.0" text-anchor="end" fill="#111" font-weight="bold" letter-spacing="0.28">10%</text>
<text x="98.7" y="482.6" font-size="6.0" text-anchor="end" fill="#111" font-weight="bold" letter-spacing="0.28">(10/101)</text>
<text x="97.9" y="492.0" font-size="6.0" text-anchor="end" fill="#111" font-weight="bold" letter-spacing="0.28">10%</text>
<text x="97.9" y="501.2" font-size="6.0" text-anchor="end" fill="#111" font-weight="bold" letter-spacing="0.28">(1/10)</text>
<line x1="59.5" y1="485.0" x2="62.5" y2="485.0" stroke="#7a7a7a" stroke-width="0.95"/>
<text x="77.0" y="373.2" font-size="6.0" text-anchor="start" fill="#111" font-weight="bold" letter-spacing="0.28">0%</text>
<text x="55.2" y="317.9" font-size="8.9" text-anchor="end" fill="#2a2a2a" textLength="35.0" lengthAdjust="spacingAndGlyphs">Neonatal</text>
<text x="55.2" y="327.9" font-size="8.9" text-anchor="end" fill="#2a2a2a" textLength="31.5" lengthAdjust="spacingAndGlyphs">findings</text>
<text x="55.2" y="364.3" font-size="8.9" text-anchor="end" fill="#2a2a2a" textLength="41.0" lengthAdjust="spacingAndGlyphs">Hypotonia</text>
<text x="55.2" y="400.4" font-size="8.9" text-anchor="end" fill="#2a2a2a" textLength="31.5" lengthAdjust="spacingAndGlyphs">Feeding</text>
<text x="55.2" y="410.1" font-size="8.9" text-anchor="end" fill="#2a2a2a" textLength="37.7" lengthAdjust="spacingAndGlyphs">problems</text>
<text x="55.2" y="441.4" font-size="8.9" text-anchor="end" fill="#2a2a2a" textLength="43.9" lengthAdjust="spacingAndGlyphs">Congenital</text>
<text x="55.2" y="451.3" font-size="8.9" text-anchor="end" fill="#2a2a2a" textLength="55.1" lengthAdjust="spacingAndGlyphs">microcephaly</text>
<text x="55.2" y="487.8" font-size="8.9" text-anchor="end" fill="#2a2a2a" textLength="34.5" lengthAdjust="spacingAndGlyphs">Clubfoot</text>
<text x="129.8" y="331.2" font-size="7.4" fill="#2a2a2a" textLength="44.8" lengthAdjust="spacingAndGlyphs"><tspan font-style="italic">P</tspan> = 2.41 × 10<tspan font-size="5.2" dy="-3">−4</tspan></text>
<text x="95.5" y="373.4" font-size="7.4" fill="#2a2a2a" textLength="44.8" lengthAdjust="spacingAndGlyphs"><tspan font-style="italic">P</tspan> = 1.67 × 10<tspan font-size="5.2" dy="-3">−3</tspan></text>
<text x="196.2" y="536.1" font-size="8.9" text-anchor="middle" fill="#2a2a2a" textLength="113.8" lengthAdjust="spacingAndGlyphs">Patients with information (%)</text>
<text x="102.8" y="551.4" font-size="9.0" text-anchor="start" fill="#2a2a2a" textLength="75.5" lengthAdjust="spacingAndGlyphs">Nucleotide change</text>
<rect x="186.70" y="544.90" width="7.30" height="7.30" fill="#8fbcdb"/>
<text x="197.7" y="551.0" font-size="7.3" text-anchor="start" fill="#2a2a2a" textLength="40.8" lengthAdjust="spacingAndGlyphs">n.64_65insT</text>
<rect x="252.40" y="544.90" width="7.30" height="7.30" fill="#b5d4ea"/>
<text x="262.6" y="551.0" font-size="7.3" text-anchor="start" fill="#2a2a2a" textLength="28.1" lengthAdjust="spacingAndGlyphs">n.76C&gt;T</text>
<text x="63.3" y="569.4" font-size="8.9" text-anchor="start" fill="#2a2a2a" textLength="65.7" lengthAdjust="spacingAndGlyphs">Language ability</text>
<line x1="62.5" y1="573.6" x2="62.5" y2="617.3" stroke="#7a7a7a" stroke-width="0.95"/>
<line x1="62.5" y1="617.3" x2="333.0" y2="617.3" stroke="#7a7a7a" stroke-width="0.95"/>
<line x1="75.0" y1="617.3" x2="75.0" y2="619.8" stroke="#7a7a7a" stroke-width="0.95"/>
<text x="75.0" y="630.2" font-size="7.3" text-anchor="middle" fill="#2a2a2a">0</text>
<line x1="136.2" y1="617.3" x2="136.2" y2="619.8" stroke="#7a7a7a" stroke-width="0.95"/>
<text x="136.2" y="630.2" font-size="7.3" text-anchor="middle" fill="#2a2a2a">25</text>
<line x1="197.5" y1="617.3" x2="197.5" y2="619.8" stroke="#7a7a7a" stroke-width="0.95"/>
<text x="197.5" y="630.2" font-size="7.3" text-anchor="middle" fill="#2a2a2a">50</text>
<line x1="258.8" y1="617.3" x2="258.8" y2="619.8" stroke="#7a7a7a" stroke-width="0.95"/>
<text x="258.8" y="630.2" font-size="7.3" text-anchor="middle" fill="#2a2a2a">75</text>
<line x1="320.0" y1="617.3" x2="320.0" y2="619.8" stroke="#7a7a7a" stroke-width="0.95"/>
<text x="320.0" y="630.2" font-size="7.3" text-anchor="middle" fill="#2a2a2a">100</text>
<rect x="75.00" y="576.20" width="2.89" height="17.80" fill="#d8c7e0"/>
<rect x="77.89" y="576.20" width="8.65" height="17.80" fill="#c4a8d0"/>
<rect x="86.54" y="576.20" width="83.55" height="17.80" fill="#ac8bbe"/>
<text x="128.3" y="583.2" font-size="6.0" text-anchor="middle" fill="#111" font-weight="bold" letter-spacing="0.28">34%</text>
<text x="128.3" y="591.8" font-size="6.0" text-anchor="middle" fill="#111" font-weight="bold" letter-spacing="0.28">(29/85)</text>
<rect x="170.08" y="576.20" width="149.92" height="17.80" fill="#9a6fae"/>
<text x="245.0" y="583.2" font-size="6.0" text-anchor="middle" fill="#111" font-weight="bold" letter-spacing="0.28">61%</text>
<text x="245.0" y="591.8" font-size="6.0" text-anchor="middle" fill="#111" font-weight="bold" letter-spacing="0.28">(52/85)</text>
<rect x="75.00" y="596.40" width="98.00" height="17.80" fill="#d8c7e0"/>
<text x="124.0" y="603.4" font-size="6.0" text-anchor="middle" fill="#111" font-weight="bold" letter-spacing="0.28">40%</text>
<text x="124.0" y="612.0" font-size="6.0" text-anchor="middle" fill="#111" font-weight="bold" letter-spacing="0.28">(4/10)</text>
<rect x="173.00" y="596.40" width="147.00" height="17.80" fill="#c4a8d0"/>
<text x="246.5" y="603.4" font-size="6.0" text-anchor="middle" fill="#111" font-weight="bold" letter-spacing="0.28">60%</text>
<text x="246.5" y="612.0" font-size="6.0" text-anchor="middle" fill="#111" font-weight="bold" letter-spacing="0.28">(6/10)</text>
<line x1="59.5" y1="585.1" x2="62.5" y2="585.1" stroke="#7a7a7a" stroke-width="0.95"/>
<line x1="59.5" y1="605.3" x2="62.5" y2="605.3" stroke="#7a7a7a" stroke-width="0.95"/>
<text x="55.3" y="588.4" font-size="8.7" text-anchor="end" fill="#2a2a2a">n.64_65insT</text>
<text x="55.3" y="608.5" font-size="8.7" text-anchor="end" fill="#2a2a2a">n.76C&gt;T</text>
<text x="0" y="0" font-size="7.2" text-anchor="middle" fill="#2a2a2a" textLength="45.5" lengthAdjust="spacingAndGlyphs" transform="translate(329.2,594.5) rotate(-90)"><tspan font-style="italic">P</tspan> = 1.32 × 10<tspan font-size="5.0" dy="-3">−4</tspan></text>
<text x="200.0" y="642.6" font-size="8.9" text-anchor="middle" fill="#2a2a2a" textLength="114.0" lengthAdjust="spacingAndGlyphs">Patients with information (%)</text>
<rect x="76.20" y="649.00" width="6.60" height="6.60" fill="#d8c7e0"/>
<text x="87.3" y="655.0" font-size="7.3" text-anchor="start" fill="#2a2a2a" textLength="24.9" lengthAdjust="spacingAndGlyphs">Normal</text>
<rect x="126.40" y="649.00" width="6.60" height="6.60" fill="#c4a8d0"/>
<text x="136.5" y="655.0" font-size="7.3" text-anchor="start" fill="#2a2a2a" textLength="60.5" lengthAdjust="spacingAndGlyphs">Simple sentences</text>
<rect x="210.60" y="649.00" width="6.60" height="6.60" fill="#ac8bbe"/>
<text x="221.5" y="655.0" font-size="7.3" text-anchor="start" fill="#2a2a2a" textLength="36.4" lengthAdjust="spacingAndGlyphs">Few words</text>
<rect x="271.00" y="649.00" width="6.60" height="6.60" fill="#9a6fae"/>
<text x="281.8" y="655.0" font-size="7.3" text-anchor="start" fill="#2a2a2a" textLength="35.2" lengthAdjust="spacingAndGlyphs">Nonverbal</text>
<text x="63.3" y="672.5" font-size="8.9" text-anchor="start" fill="#2a2a2a" textLength="85.1" lengthAdjust="spacingAndGlyphs">Walking achievement</text>
<line x1="62.5" y1="677.4" x2="62.5" y2="720.8" stroke="#7a7a7a" stroke-width="0.95"/>
<line x1="62.5" y1="720.8" x2="332.5" y2="720.8" stroke="#7a7a7a" stroke-width="0.95"/>
<line x1="75.0" y1="720.8" x2="75.0" y2="723.3" stroke="#7a7a7a" stroke-width="0.95"/>
<text x="75.0" y="733.9" font-size="7.3" text-anchor="middle" fill="#2a2a2a">0</text>
<line x1="136.2" y1="720.8" x2="136.2" y2="723.3" stroke="#7a7a7a" stroke-width="0.95"/>
<text x="136.2" y="733.9" font-size="7.3" text-anchor="middle" fill="#2a2a2a">25</text>
<line x1="197.5" y1="720.8" x2="197.5" y2="723.3" stroke="#7a7a7a" stroke-width="0.95"/>
<text x="197.5" y="733.9" font-size="7.3" text-anchor="middle" fill="#2a2a2a">50</text>
<line x1="258.8" y1="720.8" x2="258.8" y2="723.3" stroke="#7a7a7a" stroke-width="0.95"/>
<text x="258.8" y="733.9" font-size="7.3" text-anchor="middle" fill="#2a2a2a">75</text>
<line x1="320.0" y1="720.8" x2="320.0" y2="723.3" stroke="#7a7a7a" stroke-width="0.95"/>
<text x="320.0" y="733.9" font-size="7.3" text-anchor="middle" fill="#2a2a2a">100</text>
<rect x="75.00" y="680.30" width="20.65" height="17.80" fill="#d8c7e0"/>
<rect x="95.65" y="680.30" width="191.86" height="17.80" fill="#c4a8d0"/>
<text x="191.6" y="687.3" font-size="6.0" text-anchor="middle" fill="#111" font-weight="bold" letter-spacing="0.28">78%</text>
<text x="191.6" y="695.9" font-size="6.0" text-anchor="middle" fill="#111" font-weight="bold" letter-spacing="0.28">(65/83)</text>
<rect x="287.51" y="680.30" width="32.46" height="17.80" fill="#ac8bbe"/>
<text x="303.7" y="687.3" font-size="6.0" text-anchor="middle" fill="#111" font-weight="bold" letter-spacing="0.28">13%</text>
<text x="303.7" y="695.9" font-size="6.0" text-anchor="middle" fill="#111" font-weight="bold" letter-spacing="0.28">(11/83)</text>
<rect x="75.00" y="700.20" width="98.00" height="17.80" fill="#d8c7e0"/>
<text x="124.0" y="707.2" font-size="6.0" text-anchor="middle" fill="#111" font-weight="bold" letter-spacing="0.28">40%</text>
<text x="124.0" y="715.8" font-size="6.0" text-anchor="middle" fill="#111" font-weight="bold" letter-spacing="0.28">(4/10)</text>
<rect x="173.00" y="700.20" width="147.00" height="17.80" fill="#c4a8d0"/>
<text x="246.5" y="707.2" font-size="6.0" text-anchor="middle" fill="#111" font-weight="bold" letter-spacing="0.28">60%</text>
<text x="246.5" y="715.8" font-size="6.0" text-anchor="middle" fill="#111" font-weight="bold" letter-spacing="0.28">(6/10)</text>
<line x1="59.5" y1="689.2" x2="62.5" y2="689.2" stroke="#7a7a7a" stroke-width="0.95"/>
<line x1="59.5" y1="709.1" x2="62.5" y2="709.1" stroke="#7a7a7a" stroke-width="0.95"/>
<text x="55.3" y="692.3" font-size="8.7" text-anchor="end" fill="#2a2a2a">n.64_65insT</text>
<text x="55.3" y="712.2" font-size="8.7" text-anchor="end" fill="#2a2a2a">n.76C&gt;T</text>
<text x="197.5" y="746.9" font-size="8.9" text-anchor="middle" fill="#2a2a2a" textLength="114.2" lengthAdjust="spacingAndGlyphs">Patients with information (%)</text>
<rect x="116.60" y="756.20" width="6.60" height="6.60" fill="#d8c7e0"/>
<text x="127.8" y="762.2" font-size="7.3" text-anchor="start" fill="#2a2a2a" textLength="38.5" lengthAdjust="spacingAndGlyphs">Normal age</text>
<rect x="180.00" y="756.20" width="6.60" height="6.60" fill="#c4a8d0"/>
<text x="190.6" y="762.2" font-size="7.3" text-anchor="start" fill="#2a2a2a" textLength="18.6" lengthAdjust="spacingAndGlyphs">Delay</text>
<rect x="222.90" y="756.20" width="6.60" height="6.60" fill="#ac8bbe"/>
<text x="234.0" y="762.2" font-size="7.3" text-anchor="start" fill="#2a2a2a" textLength="44.4" lengthAdjust="spacingAndGlyphs">Not achieved</text>
<text x="415.7" y="290.6" font-size="8.9" text-anchor="start" fill="#2a2a2a" textLength="29.0" lengthAdjust="spacingAndGlyphs">Growth</text>
<line x1="415.7" y1="295.4" x2="415.7" y2="381.8" stroke="#7a7a7a" stroke-width="0.95"/>
<line x1="415.7" y1="381.8" x2="681.0" y2="381.8" stroke="#7a7a7a" stroke-width="0.95"/>
<line x1="427.0" y1="381.8" x2="427.0" y2="384.3" stroke="#7a7a7a" stroke-width="0.95"/>
<text x="427.0" y="395.2" font-size="7.3" text-anchor="middle" fill="#2a2a2a">0</text>
<line x1="487.8" y1="381.8" x2="487.8" y2="384.3" stroke="#7a7a7a" stroke-width="0.95"/>
<text x="487.8" y="395.2" font-size="7.3" text-anchor="middle" fill="#2a2a2a">25</text>
<line x1="548.5" y1="381.8" x2="548.5" y2="384.3" stroke="#7a7a7a" stroke-width="0.95"/>
<text x="548.5" y="395.2" font-size="7.3" text-anchor="middle" fill="#2a2a2a">50</text>
<line x1="609.2" y1="381.8" x2="609.2" y2="384.3" stroke="#7a7a7a" stroke-width="0.95"/>
<text x="609.2" y="395.2" font-size="7.3" text-anchor="middle" fill="#2a2a2a">75</text>
<line x1="670.0" y1="381.8" x2="670.0" y2="384.3" stroke="#7a7a7a" stroke-width="0.95"/>
<text x="670.0" y="395.2" font-size="7.3" text-anchor="middle" fill="#2a2a2a">100</text>
<rect x="427.00" y="301.10" width="145.31" height="17.90" fill="#fcd98b"/>
<rect x="427.00" y="319.00" width="24.30" height="17.90" fill="#fde7b3"/>
<text x="571.0" y="308.1" font-size="6.0" text-anchor="end" fill="#111" font-weight="bold" letter-spacing="0.28">60%</text>
<text x="571.0" y="317.3" font-size="6.0" text-anchor="end" fill="#111" font-weight="bold" letter-spacing="0.28">(61/102)</text>
<text x="450.0" y="326.0" font-size="6.0" text-anchor="end" fill="#111" font-weight="bold" letter-spacing="0.28">10%</text>
<text x="450.0" y="335.2" font-size="6.0" text-anchor="end" fill="#111" font-weight="bold" letter-spacing="0.28">(1/10)</text>
<line x1="412.7" y1="319.0" x2="415.7" y2="319.0" stroke="#7a7a7a" stroke-width="0.95"/>
<rect x="427.00" y="340.80" width="179.33" height="17.90" fill="#fcd98b"/>
<rect x="427.00" y="358.70" width="72.90" height="17.90" fill="#fde7b3"/>
<text x="605.0" y="347.8" font-size="6.0" text-anchor="end" fill="#111" font-weight="bold" letter-spacing="0.28">74%</text>
<text x="605.0" y="357.0" font-size="6.0" text-anchor="end" fill="#111" font-weight="bold" letter-spacing="0.28">(76/103)</text>
<text x="498.6" y="365.7" font-size="6.0" text-anchor="end" fill="#111" font-weight="bold" letter-spacing="0.28">30%</text>
<text x="498.6" y="374.9" font-size="6.0" text-anchor="end" fill="#111" font-weight="bold" letter-spacing="0.28">(3/10)</text>
<line x1="412.7" y1="358.7" x2="415.7" y2="358.7" stroke="#7a7a7a" stroke-width="0.95"/>
<text x="408.4" y="321.7" font-size="7.8" text-anchor="end" fill="#2a2a2a">Short stature</text>
<text x="408.4" y="361.7" font-size="7.8" text-anchor="end" fill="#2a2a2a">Microcephaly</text>
<text x="549.1" y="409.0" font-size="8.9" text-anchor="middle" fill="#2a2a2a" textLength="114.4" lengthAdjust="spacingAndGlyphs">Patients with information (%)</text>
<text x="454.8" y="424.0" font-size="9.0" text-anchor="start" fill="#2a2a2a" textLength="76.5" lengthAdjust="spacingAndGlyphs">Nucleotide change</text>
<rect x="538.60" y="417.30" width="6.80" height="6.80" fill="#fcd98b"/>
<text x="549.6" y="423.6" font-size="7.3" text-anchor="start" fill="#2a2a2a">n.64_65insT</text>
<rect x="604.20" y="417.30" width="6.80" height="6.80" fill="#fde7b3"/>
<text x="614.8" y="423.6" font-size="7.3" text-anchor="start" fill="#2a2a2a">n.76C&gt;T</text>
<text x="415.7" y="439.4" font-size="8.9" text-anchor="start" fill="#2a2a2a" textLength="51.3" lengthAdjust="spacingAndGlyphs">Neurological</text>
<line x1="415.2" y1="444.4" x2="415.2" y2="574.4" stroke="#7a7a7a" stroke-width="0.95"/>
<line x1="415.2" y1="574.4" x2="673.8" y2="574.4" stroke="#7a7a7a" stroke-width="0.95"/>
<line x1="426.5" y1="574.4" x2="426.5" y2="576.9" stroke="#7a7a7a" stroke-width="0.95"/>
<text x="426.5" y="588.2" font-size="7.3" text-anchor="middle" fill="#2a2a2a">0</text>
<line x1="485.5" y1="574.4" x2="485.5" y2="576.9" stroke="#7a7a7a" stroke-width="0.95"/>
<text x="485.5" y="588.2" font-size="7.3" text-anchor="middle" fill="#2a2a2a">25</text>
<line x1="544.5" y1="574.4" x2="544.5" y2="576.9" stroke="#7a7a7a" stroke-width="0.95"/>
<text x="544.5" y="588.2" font-size="7.3" text-anchor="middle" fill="#2a2a2a">50</text>
<line x1="603.5" y1="574.4" x2="603.5" y2="576.9" stroke="#7a7a7a" stroke-width="0.95"/>
<text x="603.5" y="588.2" font-size="7.3" text-anchor="middle" fill="#2a2a2a">75</text>
<line x1="662.5" y1="574.4" x2="662.5" y2="576.9" stroke="#7a7a7a" stroke-width="0.95"/>
<text x="662.5" y="588.2" font-size="7.3" text-anchor="middle" fill="#2a2a2a">100</text>
<rect x="426.50" y="449.90" width="157.41" height="18.20" fill="#80bd7f"/>
<rect x="426.50" y="468.10" width="236.00" height="18.20" fill="#a8d4a2"/>
<text x="582.6" y="456.9" font-size="6.0" text-anchor="end" fill="#111" font-weight="bold" letter-spacing="0.28">67%</text>
<text x="582.6" y="466.1" font-size="6.0" text-anchor="end" fill="#111" font-weight="bold" letter-spacing="0.28">(40/60)</text>
<text x="661.2" y="475.1" font-size="6.0" text-anchor="end" fill="#111" font-weight="bold" letter-spacing="0.28">100%</text>
<text x="661.2" y="484.3" font-size="6.0" text-anchor="end" fill="#111" font-weight="bold" letter-spacing="0.28">(8/8)</text>
<line x1="412.2" y1="468.1" x2="415.2" y2="468.1" stroke="#7a7a7a" stroke-width="0.95"/>
<rect x="426.50" y="491.30" width="150.33" height="18.20" fill="#80bd7f"/>
<rect x="426.50" y="509.50" width="236.00" height="18.20" fill="#a8d4a2"/>
<text x="575.5" y="498.3" font-size="6.0" text-anchor="end" fill="#111" font-weight="bold" letter-spacing="0.28">64%</text>
<text x="575.5" y="507.5" font-size="6.0" text-anchor="end" fill="#111" font-weight="bold" letter-spacing="0.28">(65/102)</text>
<text x="661.2" y="516.5" font-size="6.0" text-anchor="end" fill="#111" font-weight="bold" letter-spacing="0.28">100%</text>
<text x="661.2" y="525.7" font-size="6.0" text-anchor="end" fill="#111" font-weight="bold" letter-spacing="0.28">(10/10)</text>
<line x1="412.2" y1="509.5" x2="415.2" y2="509.5" stroke="#7a7a7a" stroke-width="0.95"/>
<rect x="426.50" y="531.70" width="214.29" height="18.20" fill="#80bd7f"/>
<rect x="426.50" y="549.90" width="33.75" height="18.20" fill="#a8d4a2"/>
<text x="639.5" y="538.7" font-size="6.0" text-anchor="end" fill="#111" font-weight="bold" letter-spacing="0.28">91%</text>
<text x="639.5" y="547.9" font-size="6.0" text-anchor="end" fill="#111" font-weight="bold" letter-spacing="0.28">(89/98)</text>
<text x="458.9" y="556.9" font-size="6.0" text-anchor="end" fill="#111" font-weight="bold" letter-spacing="0.28">14%</text>
<text x="458.9" y="566.1" font-size="6.0" text-anchor="end" fill="#111" font-weight="bold" letter-spacing="0.28">(1/7)</text>
<line x1="412.2" y1="549.9" x2="415.2" y2="549.9" stroke="#7a7a7a" stroke-width="0.95"/>
<text x="408.4" y="466.1" font-size="8.9" text-anchor="end" fill="#2a2a2a">Febrile</text>
<text x="408.4" y="476.2" font-size="8.9" text-anchor="end" fill="#2a2a2a">seizures</text>
<text x="408.4" y="507.4" font-size="8.9" text-anchor="end" fill="#2a2a2a">Epilepsy</text>
<text x="408.4" y="517.4" font-size="8.9" text-anchor="end" fill="#2a2a2a">(or one seizure)</text>
<text x="408.4" y="548.5" font-size="8.9" text-anchor="end" fill="#2a2a2a">MRI</text>
<text x="408.4" y="558.3" font-size="8.9" text-anchor="end" fill="#2a2a2a" textLength="55.3" lengthAdjust="spacingAndGlyphs">abnormalities</text>
<text x="465.8" y="562.1" font-size="7.4" fill="#2a2a2a" textLength="44.8" lengthAdjust="spacingAndGlyphs"><tspan font-style="italic">P</tspan> = 2.47 × 10<tspan font-size="5.2" dy="-3">−3</tspan></text>
<text x="547.5" y="601.0" font-size="8.9" text-anchor="middle" fill="#2a2a2a" textLength="113.7" lengthAdjust="spacingAndGlyphs">Patients with information (%)</text>
<text x="452.2" y="616.0" font-size="9.0" text-anchor="start" fill="#2a2a2a" textLength="76.5" lengthAdjust="spacingAndGlyphs">Nucleotide change</text>
<rect x="534.90" y="609.40" width="6.60" height="6.60" fill="#80bd7f"/>
<text x="544.8" y="615.7" font-size="7.3" text-anchor="start" fill="#2a2a2a">n.64_65insT</text>
<rect x="599.40" y="609.40" width="6.60" height="6.60" fill="#a8d4a2"/>
<text x="610.0" y="615.7" font-size="7.3" text-anchor="start" fill="#2a2a2a">n.76C&gt;T</text>
<text x="415.7" y="633.2" font-size="8.9" text-anchor="start" fill="#2a2a2a" textLength="76.9" lengthAdjust="spacingAndGlyphs">Development delay</text>
<line x1="415.7" y1="638.3" x2="415.7" y2="681.2" stroke="#7a7a7a" stroke-width="0.95"/>
<line x1="415.7" y1="681.2" x2="684.0" y2="681.2" stroke="#7a7a7a" stroke-width="0.95"/>
<line x1="427.5" y1="681.2" x2="427.5" y2="683.7" stroke="#7a7a7a" stroke-width="0.95"/>
<line x1="488.8" y1="681.2" x2="488.8" y2="683.7" stroke="#7a7a7a" stroke-width="0.95"/>
<line x1="550.0" y1="681.2" x2="550.0" y2="683.7" stroke="#7a7a7a" stroke-width="0.95"/>
<line x1="611.3" y1="681.2" x2="611.3" y2="683.7" stroke="#7a7a7a" stroke-width="0.95"/>
<line x1="672.6" y1="681.2" x2="672.6" y2="683.7" stroke="#7a7a7a" stroke-width="0.95"/>
<rect x="427.50" y="640.80" width="4.95" height="17.40" fill="#d8c7e0"/>
<rect x="432.45" y="640.80" width="59.41" height="17.40" fill="#c4a8d0"/>
<text x="462.2" y="647.8" font-size="6.0" text-anchor="middle" fill="#111" font-weight="bold" letter-spacing="0.28">24%</text>
<text x="462.2" y="656.4" font-size="6.0" text-anchor="middle" fill="#111" font-weight="bold" letter-spacing="0.28">(24/99)</text>
<rect x="491.86" y="640.80" width="180.74" height="17.40" fill="#ac8bbe"/>
<text x="582.2" y="647.8" font-size="6.0" text-anchor="middle" fill="#111" font-weight="bold" letter-spacing="0.28">74%</text>
<text x="582.2" y="656.4" font-size="6.0" text-anchor="middle" fill="#111" font-weight="bold" letter-spacing="0.28">(73/99)</text>
<rect x="427.50" y="660.60" width="136.18" height="17.90" fill="#d8c7e0"/>
<text x="495.6" y="667.6" font-size="6.0" text-anchor="middle" fill="#111" font-weight="bold" letter-spacing="0.28">56%</text>
<text x="495.6" y="676.2" font-size="6.0" text-anchor="middle" fill="#111" font-weight="bold" letter-spacing="0.28">(5/9)</text>
<rect x="563.68" y="660.60" width="108.92" height="17.90" fill="#c4a8d0"/>
<text x="618.1" y="667.6" font-size="6.0" text-anchor="middle" fill="#111" font-weight="bold" letter-spacing="0.28">44%</text>
<text x="618.1" y="676.2" font-size="6.0" text-anchor="middle" fill="#111" font-weight="bold" letter-spacing="0.28">(4/9)</text>
<line x1="412.7" y1="649.5" x2="415.7" y2="649.5" stroke="#7a7a7a" stroke-width="0.95"/>
<line x1="412.7" y1="669.5" x2="415.7" y2="669.5" stroke="#7a7a7a" stroke-width="0.95"/>
<text x="408.0" y="652.7" font-size="8.7" text-anchor="end" fill="#2a2a2a">n.64_65insT</text>
<text x="408.0" y="672.5" font-size="8.7" text-anchor="end" fill="#2a2a2a">n.76C&gt;T</text>
<text x="0" y="0" font-size="7.2" text-anchor="middle" fill="#2a2a2a" textLength="45.5" lengthAdjust="spacingAndGlyphs" transform="translate(680.0,657.0) rotate(-90)"><tspan font-style="italic">P</tspan> = 2.05 × 10<tspan font-size="5.0" dy="-3">−5</tspan></text>
<text x="415.7" y="698.6" font-size="8.9" text-anchor="start" fill="#2a2a2a" textLength="81.3" lengthAdjust="spacingAndGlyphs">Estimated level of ID</text>
<line x1="415.7" y1="702.4" x2="415.7" y2="746.6" stroke="#7a7a7a" stroke-width="0.95"/>
<line x1="415.7" y1="746.6" x2="684.0" y2="746.6" stroke="#7a7a7a" stroke-width="0.95"/>
<line x1="427.5" y1="746.6" x2="427.5" y2="749.1" stroke="#7a7a7a" stroke-width="0.95"/>
<text x="427.5" y="760.0" font-size="7.3" text-anchor="middle" fill="#2a2a2a">0</text>
<line x1="488.8" y1="746.6" x2="488.8" y2="749.1" stroke="#7a7a7a" stroke-width="0.95"/>
<text x="488.8" y="760.0" font-size="7.3" text-anchor="middle" fill="#2a2a2a">25</text>
<line x1="550.0" y1="746.6" x2="550.0" y2="749.1" stroke="#7a7a7a" stroke-width="0.95"/>
<text x="550.0" y="760.0" font-size="7.3" text-anchor="middle" fill="#2a2a2a">50</text>
<line x1="611.3" y1="746.6" x2="611.3" y2="749.1" stroke="#7a7a7a" stroke-width="0.95"/>
<text x="611.3" y="760.0" font-size="7.3" text-anchor="middle" fill="#2a2a2a">75</text>
<line x1="672.6" y1="746.6" x2="672.6" y2="749.1" stroke="#7a7a7a" stroke-width="0.95"/>
<text x="672.6" y="760.0" font-size="7.3" text-anchor="middle" fill="#2a2a2a">100</text>
<rect x="427.50" y="706.10" width="3.14" height="17.40" fill="#d8c7e0"/>
<rect x="430.64" y="706.10" width="50.27" height="17.40" fill="#c4a8d0"/>
<text x="455.8" y="713.1" font-size="6.0" text-anchor="middle" fill="#111" font-weight="bold" letter-spacing="0.28">21%</text>
<text x="455.8" y="721.7" font-size="6.0" text-anchor="middle" fill="#111" font-weight="bold" letter-spacing="0.28">(16/78)</text>
<rect x="480.91" y="706.10" width="191.69" height="17.40" fill="#ac8bbe"/>
<text x="576.8" y="713.1" font-size="6.0" text-anchor="middle" fill="#111" font-weight="bold" letter-spacing="0.28">78%</text>
<text x="576.8" y="721.7" font-size="6.0" text-anchor="middle" fill="#111" font-weight="bold" letter-spacing="0.28">(61/78)</text>
<rect x="427.50" y="726.00" width="122.55" height="17.40" fill="#d8c7e0"/>
<text x="488.8" y="733.0" font-size="6.0" text-anchor="middle" fill="#111" font-weight="bold" letter-spacing="0.28">50%</text>
<text x="488.8" y="741.6" font-size="6.0" text-anchor="middle" fill="#111" font-weight="bold" letter-spacing="0.28">(4/8)</text>
<rect x="550.05" y="726.00" width="122.55" height="17.40" fill="#c4a8d0"/>
<text x="611.3" y="733.0" font-size="6.0" text-anchor="middle" fill="#111" font-weight="bold" letter-spacing="0.28">50%</text>
<text x="611.3" y="741.6" font-size="6.0" text-anchor="middle" fill="#111" font-weight="bold" letter-spacing="0.28">(4/8)</text>
<line x1="412.7" y1="714.8" x2="415.7" y2="714.8" stroke="#7a7a7a" stroke-width="0.95"/>
<line x1="412.7" y1="734.7" x2="415.7" y2="734.7" stroke="#7a7a7a" stroke-width="0.95"/>
<text x="408.0" y="717.9" font-size="8.7" text-anchor="end" fill="#2a2a2a">n.64_65insT</text>
<text x="408.0" y="737.8" font-size="8.7" text-anchor="end" fill="#2a2a2a">n.76C&gt;T</text>
<text x="0" y="0" font-size="7.2" text-anchor="middle" fill="#2a2a2a" textLength="45.5" lengthAdjust="spacingAndGlyphs" transform="translate(680.0,723.0) rotate(-90)"><tspan font-style="italic">P</tspan> = 8.57 × 10<tspan font-size="5.0" dy="-3">−5</tspan></text>
<text x="552.7" y="772.6" font-size="8.9" text-anchor="middle" fill="#2a2a2a" textLength="115.5" lengthAdjust="spacingAndGlyphs">Patients with information (%)</text>
<rect x="456.60" y="779.40" width="6.60" height="6.60" fill="#d8c7e0"/>
<text x="467.8" y="785.6" font-size="7.3" text-anchor="start" fill="#2a2a2a" textLength="31.8" lengthAdjust="spacingAndGlyphs">None/mild</text>
<rect x="517.00" y="779.40" width="6.60" height="6.60" fill="#c4a8d0"/>
<text x="528.6" y="785.6" font-size="7.3" text-anchor="start" fill="#2a2a2a" textLength="31.8" lengthAdjust="spacingAndGlyphs">Moderate</text>
<rect x="574.80" y="779.40" width="6.60" height="6.60" fill="#ac8bbe"/>
<text x="585.7" y="785.6" font-size="7.3" text-anchor="start" fill="#2a2a2a" textLength="57.6" lengthAdjust="spacingAndGlyphs">Severe/profound</text>
</svg>
</body></html>
